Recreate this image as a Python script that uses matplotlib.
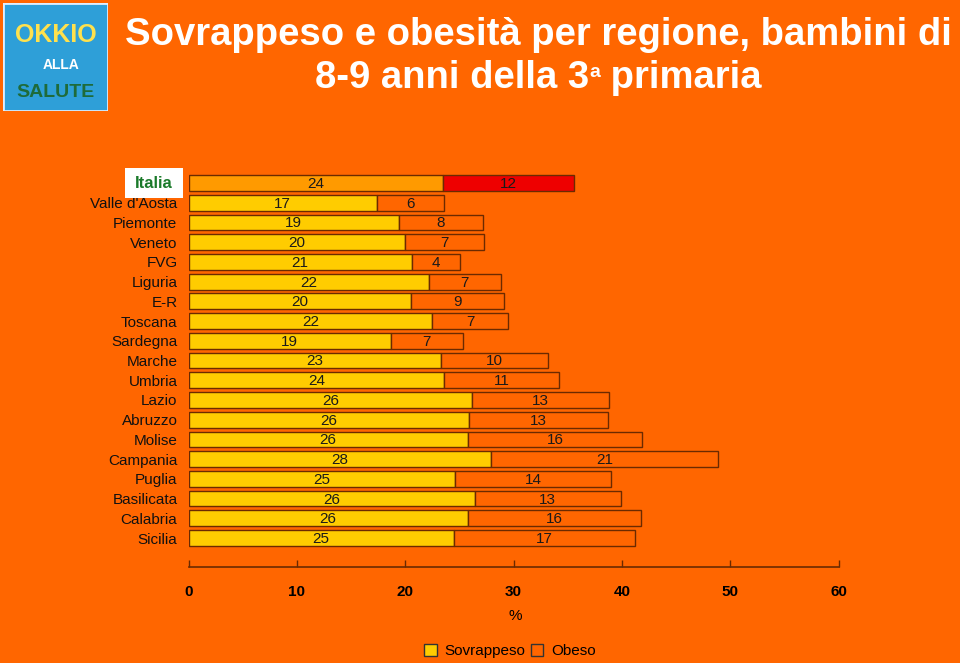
import matplotlib.pyplot as plt
from matplotlib.patches import Rectangle, Patch

# dati (% bambini 8-9 anni)
regioni = ['Italia', "Valle d'Aosta", 'Piemonte', 'Veneto', 'FVG', 'Liguria', 'E-R',
           'Toscana', 'Sardegna', 'Marche', 'Umbria', 'Lazio', 'Abruzzo', 'Molise',
           'Campania', 'Puglia', 'Basilicata', 'Calabria', 'Sicilia']
sovrappeso = [23.5, 17.4, 19.4, 20.0, 20.6, 22.2, 20.5, 22.5, 18.7, 23.3,
              23.6, 26.2, 25.9, 25.8, 27.9, 24.6, 26.4, 25.8, 24.5]
obeso = [12.1, 6.2, 7.8, 7.3, 4.5, 6.6, 8.6, 7.0, 6.6, 9.9,
         10.6, 12.6, 12.8, 16.1, 21.0, 14.4, 13.5, 16.0, 16.7]
etich_sovr = [24, 17, 19, 20, 21, 22, 20, 22, 19, 23, 24, 26, 26, 26, 28, 25, 26, 26, 25]
etich_ob = [12, 6, 8, 7, 4, 7, 9, 7, 7, 10, 11, 13, 13, 16, 21, 14, 13, 16, 17]
xticks = [0, 10, 20, 30, 40, 50, 60]

BG = '#FF6600'
GIALLO = '#FFCC00'
BORDO = '#6B2A00'

plt.rcParams['font.family'] = ['Liberation Sans', 'DejaVu Sans']

W, H = 960, 663
fig = plt.figure(figsize=(W / 100, H / 100), dpi=100)
fig.patch.set_facecolor(BG)

def fx(px):
    return px / W

def fy(py):
    return 1 - py / H

# grafico a barre
ax = fig.add_axes([fx(188.5), fy(567), 650 / W, (567 - 170) / H])
ax.set_facecolor(BG)
y = list(range(len(regioni)))
col_s = ['#FF9A00'] + [GIALLO] * (len(regioni) - 1)
col_o = ['#EE0000'] + [BG] * (len(regioni) - 1)
ax.barh(y, sovrappeso, height=0.8, color=col_s, edgecolor=BORDO, linewidth=1)
ax.barh(y, obeso, left=sovrappeso, height=0.8, color=col_o, edgecolor=BORDO, linewidth=1)

for i in y:
    ax.text(sovrappeso[i] / 2, i + 0.05, str(etich_sovr[i]), ha='center', va='center',
            fontsize=11, color='#1a1a1a')
    ax.text(sovrappeso[i] + obeso[i] / 2, i + 0.05, str(etich_ob[i]), ha='center',
            va='center', fontsize=11, color='#1a1a1a')

ax.set_xlim(0, 60)
ax.set_ylim(19.47, -0.66)
ax.set_yticks(y[1:])
ax.set_yticklabels(regioni[1:], fontsize=11, color='#111111')
ax.tick_params(axis='y', length=0, pad=8)
ax.set_xticks(xticks)
ax.set_xticklabels([str(t) for t in xticks], fontsize=11, fontweight='bold')
ax.tick_params(axis='x', direction='in', length=5, width=1, color=BORDO, pad=13)
for s in ['left', 'right', 'top']:
    ax.spines[s].set_visible(False)
ax.spines['bottom'].set_color(BORDO)
ax.spines['bottom'].set_linewidth(1.2)

# etichetta Italia
fig.patches.append(Rectangle((fx(125), fy(198)), 58 / W, 30 / H, transform=fig.transFigure,
                             facecolor='white', edgecolor='none'))
fig.text(fx(154), fy(184), 'Italia', ha='center', va='center', fontsize=12,
         fontweight='bold', color='#1B7A2A')

fig.text(fx(515), fy(616), '%', ha='center', va='center', fontsize=11)

# legenda
handles = [Patch(facecolor=GIALLO, edgecolor='#333333', label='Sovrappeso'),
           Patch(facecolor=BG, edgecolor='#333333', label='Obeso')]
fig.legend(handles=handles, loc='center', bbox_to_anchor=(fx(510), fy(651)), ncol=2,
           frameon=False, fontsize=11, handlelength=0.8, handleheight=0.8,
           handletextpad=0.5, columnspacing=0.4)

# titolo
fig.text(fx(538), fy(35), 'Sovrappeso e obesità per regione, bambini di', ha='center',
         va='center', fontsize=27.5, fontweight='bold', color='white')

# seconda riga con la "a" in apice, composta a pezzi
r = fig.canvas.get_renderer()
pezzi = [('8-9 anni della 3', 27.5, 0), ('a', 14, 11), (' primaria', 27.5, 0)]
tt = []
for s, fs, dy in pezzi:
    tt.append(fig.text(0, fy(88 + 0) + dy / H, s, ha='left', va='baseline',
                       fontsize=fs, fontweight='bold', color='white'))
larg = [t.get_window_extent(r).width for t in tt]
x0 = 538 - sum(larg) / 2
for t, w in zip(tt, larg):
    t.set_x(fx(x0))
    x0 += w

# logo
lg = fig.add_axes([fx(3), fy(111), 105 / W, 108 / H])
lg.set_xlim(0, 1)
lg.set_ylim(0, 1)
lg.axis('off')
lg.add_patch(Rectangle((0, 0), 1, 1, facecolor='#2E9FD8', edgecolor='#DDEEFF', linewidth=2))
lg.text(0.5, 0.70, 'OKKIO', ha='center', va='center', fontsize=18, fontweight='bold',
        color='#FFE14D')
lg.text(0.55, 0.43, 'ALLA', ha='center', va='center', fontsize=10, fontweight='bold',
        color='white')
lg.text(0.5, 0.17, 'SALUTE', ha='center', va='center', fontsize=14, fontweight='bold',
        color='#1E6B3A')

fig.savefig('out.png', dpi=100, facecolor=BG)
